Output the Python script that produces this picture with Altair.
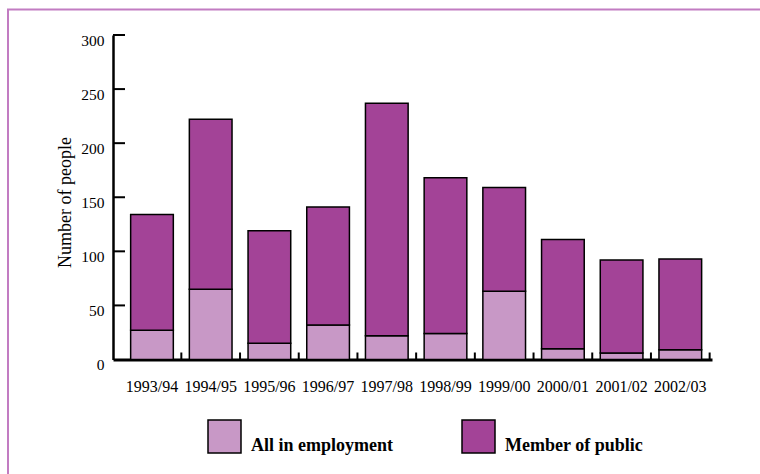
import altair as alt
import pandas as pd

years = ["1993/94", "1994/95", "1995/96", "1996/97", "1997/98",
         "1998/99", "1999/00", "2000/01", "2001/02", "2002/03"]
employment = [27, 65, 15, 32, 22, 24, 63, 10, 6, 9]
public = [107, 157, 104, 109, 215, 144, 96, 101, 86, 84]
series = ["All in employment", "Member of public"]
colors = ["#c898c6", "#a34397"]
y_ticks = [50, 100, 150, 200, 250, 300]
y_labels = [0, 50, 100, 150, 200, 250, 300]

W, H = 599, 324.5
FONT = "Liberation Serif"

rows = []
for i, yr in enumerate(years):
    rows.append({"year": yr, "series": series[0], "value": employment[i], "ord": 0})
    rows.append({"year": yr, "series": series[1], "value": public[i], "ord": 1})
df = pd.DataFrame(rows)
df_years = pd.DataFrame({"year": years})
df_yt = pd.DataFrame({"v": y_ticks})
df_one = pd.DataFrame({"a": [0]})

xscale = alt.Scale(domain=years, paddingInner=0.273, paddingOuter=0.2386, align=0.63)
yscale = alt.Scale(domain=[0, 300], nice=False)

bars = alt.Chart(df).mark_bar(stroke="black", strokeWidth=1.5).encode(
    x=alt.X("year:N", scale=xscale, sort=years,
            axis=alt.Axis(title=None, labelAngle=0, labelFont=FONT,
                          labelFontSize=16, labelColor="black", labelPadding=19,
                          ticks=False, tickSize=0, domainWidth=3, domainColor="black")),
    y=alt.Y("value:Q", stack="zero", scale=yscale,
            axis=alt.Axis(values=y_labels, title="Number of people",
                          titleFont=FONT, titleFontSize=18,
                          titleFontWeight="normal", titleColor="black",
                          titleAngle=270, titleX=-48, titleY=167,
                          titleAlign="center", titleBaseline="middle",
                          labelFont=FONT, labelFontSize=15.5,
                          labelColor="black", labelPadding=9, labelOffset=5,
                          ticks=False, tickSize=0, grid=False,
                          domainWidth=2.5, domainColor="black")),
    color=alt.Color("series:N", scale=alt.Scale(domain=series, range=colors),
                    legend=alt.Legend(title=None, orient="none", legendX=94, legendY=384,
                                      direction="horizontal", symbolType="square",
                                      symbolSize=1089, symbolStrokeColor="black",
                                      symbolStrokeWidth=1.5, symbolOpacity=1,
                                      labelFont=FONT, labelFontWeight="bold",
                                      labelFontSize=18, labelColor="black",
                                      labelOffset=9, columnPadding=66,
                                      labelBaseline="top", labelLimit=0, padding=0)),
    order=alt.Order("ord:Q", sort="ascending"),
)

xticks = alt.Chart(df_years).mark_rule(color="black", strokeWidth=2, xOffset=29.35).encode(
    x=alt.X("year:N", scale=xscale, sort=years, bandPosition=0.5),
    y=alt.value(H - 7), y2=alt.value(H),
)

yticks = alt.Chart(df_yt).mark_rule(color="black", strokeWidth=2).encode(
    y=alt.Y("v:Q", scale=yscale),
    x=alt.value(0), x2=alt.value(12),
)

border_left = alt.Chart(df_one).mark_rule(color="#c27cc2", strokeWidth=2).encode(
    x=alt.value(-105), y=alt.value(-25.5), y2=alt.value(460),
)
border_top = alt.Chart(df_one).mark_rule(color="#c27cc2", strokeWidth=2).encode(
    y=alt.value(-25.5), x=alt.value(-106), x2=alt.value(660),
)

chart = alt.layer(bars, xticks, yticks, border_left, border_top).properties(
    width=W, height=H,
    autosize=alt.AutoSizeParams(type="none"),
    padding={"left": 113, "top": 35, "right": 48, "bottom": 115},
    background="white",
).configure_view(stroke=None)

chart.save("out.html", embed_options={"renderer": "svg", "actions": False})
